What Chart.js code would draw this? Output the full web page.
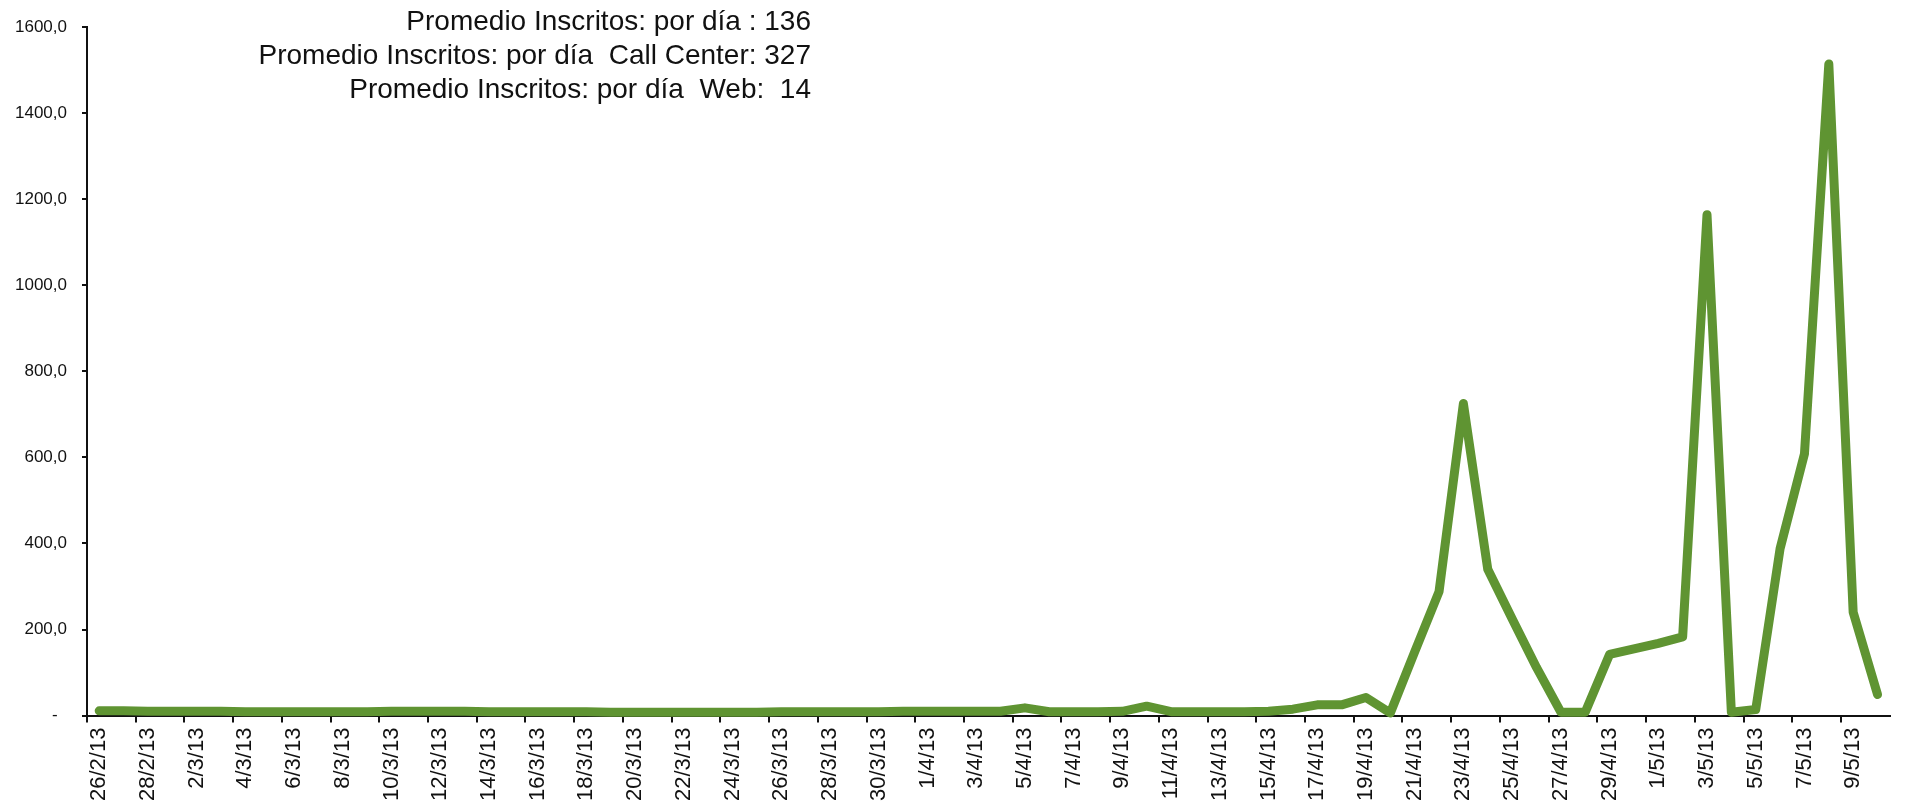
<!DOCTYPE html>
<html>
<head>
<meta charset="utf-8">
<script src="https://cdn.jsdelivr.net/npm/chart.js@4.4.0/dist/chart.umd.min.js"></script>
<style>
  body { margin: 0; background: #fff; }
  #wrap { position: relative; width: 1909px; height: 806px; }
  #promedios {
    position: absolute; top: 4px; right: 1098px;
    font-family: "Liberation Sans", Arial, sans-serif; font-size: 28px;
    line-height: 34px; text-align: right; color: #111; white-space: pre;
  }
</style>
</head>
<body>
<div id="wrap">
  <canvas id="inscritosChart" width="1909" height="806"></canvas>
  <div id="promedios">Promedio Inscritos: por día : 136
Promedio Inscritos: por día  Call Center: 327
Promedio Inscritos: por día  Web:  14</div>
</div>
<script>
// dias (26/2/13 - 10/5/13)
const dias = ['26/2/13', '27/2/13', '28/2/13',
    '1/3/13', '2/3/13', '3/3/13', '4/3/13', '5/3/13', '6/3/13', '7/3/13', '8/3/13', '9/3/13', '10/3/13',
    '11/3/13', '12/3/13', '13/3/13', '14/3/13', '15/3/13', '16/3/13', '17/3/13', '18/3/13', '19/3/13', '20/3/13',
    '21/3/13', '22/3/13', '23/3/13', '24/3/13', '25/3/13', '26/3/13', '27/3/13', '28/3/13', '29/3/13', '30/3/13', '31/3/13',
    '1/4/13', '2/4/13', '3/4/13', '4/4/13', '5/4/13', '6/4/13', '7/4/13', '8/4/13', '9/4/13', '10/4/13',
    '11/4/13', '12/4/13', '13/4/13', '14/4/13', '15/4/13', '16/4/13', '17/4/13', '18/4/13', '19/4/13', '20/4/13',
    '21/4/13', '22/4/13', '23/4/13', '24/4/13', '25/4/13', '26/4/13', '27/4/13', '28/4/13', '29/4/13', '30/4/13',
    '1/5/13', '2/5/13', '3/5/13', '4/5/13', '5/5/13', '6/5/13', '7/5/13', '8/5/13', '9/5/13', '10/5/13']

// inscritos por dia
const inscritos = [11, 11, 10, 10, 10, 10, 9, 9, 9, 9,
    9, 9, 10, 10, 10, 10, 9, 9, 9, 9,
    9, 8, 8, 8, 8, 8, 8, 8, 9, 9,
    9, 9, 9, 10, 10, 10, 10, 10, 18, 9,
    9, 9, 10, 22, 9, 9, 9, 9, 10, 15,
    25, 25, 42, 6, 148, 288, 725, 340, 225, 112,
    8, 8, 142, 155, 168, 183, 1164, 8, 14, 388,
    608, 1514, 240, 49]

const yTicks = [0, 200, 400, 600, 800, 1000, 1200, 1400, 1600]

const fontName = '"Liberation Sans", Arial, sans-serif'

function create_line_chart(_labels, _data, _target) {
    let ctx = document.getElementById(_target);
    new Chart(ctx, {
        type: 'line',
        data: {
            labels: _labels,
            datasets: [{
                data: _data,
                borderColor: '#5f9432',
                borderWidth: 9,
                borderJoinStyle: 'round',
                borderCapStyle: 'round',
                pointRadius: 0,
                tension: 0,
                clip: false
            }]
        },
        options: {
            responsive: false,
            animation: false,
            layout: { padding: { left: 0, right: 10, top: 27, bottom: 0 } },
            plugins: { legend: { display: false }, tooltip: { enabled: false } },
            scales: {
                x: {
                    offset: true,
                    border: { display: true, color: '#111', width: 2 },
                    grid: {
                        offset: true,
                        drawOnChartArea: false,
                        drawTicks: true,
                        tickLength: 7,
                        lineWidth: 2,
                        color: (c) => c.index % 2 === 0 ? '#111' : 'rgba(0,0,0,0)'
                    },
                    ticks: {
                        autoSkip: false,
                        minRotation: 90,
                        maxRotation: 90,
                        padding: 5,
                        color: '#111',
                        font: { family: fontName, size: 22 },
                        callback: function (v, i) { return i % 2 === 0 ? _labels[i] : ''; }
                    }
                },
                y: {
                    min: 0,
                    max: 1600,
                    afterBuildTicks: (axis) => { axis.ticks = yTicks.map(v => ({ value: v })); },
                    border: { display: true, color: '#111', width: 2 },
                    grid: { drawOnChartArea: false, drawTicks: true, tickLength: 5, lineWidth: 2, color: '#111' },
                    ticks: {
                        padding: 15,
                        color: '#111',
                        font: { family: fontName, size: 17 },
                        callback: (v) => v === 0 ? '-  ' : v.toFixed(1).replace('.', ',')
                    }
                }
            }
        }
    });
}

create_line_chart(dias, inscritos, 'inscritosChart');
</script>
</body>
</html>
